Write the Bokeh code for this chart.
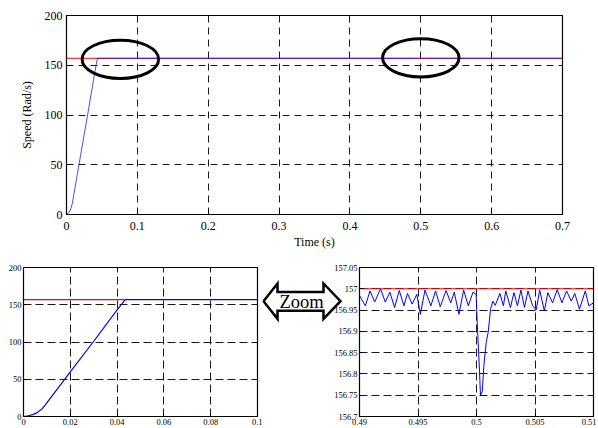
from bokeh.plotting import figure
from bokeh.layouts import column, row
from bokeh.models import FixedTicker, Range1d
from bokeh.embed import file_html
from bokeh.resources import INLINE

# ---------------- data ----------------
start_t = [0.0, 0.002, 0.004, 0.006, 0.008, 0.0093, 0.02, 0.03, 0.04, 0.0435]
start_v = [0.0, 1.0, 2.5, 5.5, 10.5, 15.7, 60.0, 101.0, 143.0, 157.0]

steady_t = [0.05, 0.1, 0.3, 0.4899]
steady_v = [156.98, 156.98, 156.98, 156.98]

zoom_t = [0.49, 0.4905, 0.4909, 0.4913, 0.4918, 0.4922, 0.4926, 0.4930, 0.4934,
          0.4938, 0.4941, 0.4945, 0.4949, 0.4952, 0.4956, 0.4961, 0.4965, 0.4969,
          0.4974, 0.4978, 0.4981, 0.4985, 0.4989, 0.4993, 0.4997, 0.49997,
          0.50006, 0.50026, 0.50034, 0.50049, 0.50063, 0.50083, 0.5010, 0.5012,
          0.5014, 0.5016, 0.5020, 0.5023, 0.5025, 0.5029, 0.5032, 0.5035, 0.5038,
          0.5041, 0.5044, 0.5048, 0.5051, 0.5054, 0.5058, 0.5061, 0.5065, 0.5069,
          0.5073, 0.5077, 0.5081, 0.5084, 0.5088, 0.5093, 0.5096, 0.51]
zoom_v = [156.984, 156.960, 156.995, 156.969, 157.000, 156.969, 156.992, 156.956,
          156.996, 156.960, 156.989, 156.964, 156.987, 156.940, 156.997, 156.960,
          156.995, 156.958, 156.996, 156.967, 156.992, 156.940, 156.997, 156.960,
          156.992, 156.987, 156.921, 156.805, 156.750, 156.758, 156.820, 156.874,
          156.898, 156.952, 156.971, 156.961, 156.989, 156.960, 156.995, 156.956,
          156.991, 156.960, 156.997, 156.956, 156.995, 156.960, 156.950, 156.997,
          156.948, 156.991, 156.967, 156.998, 156.967, 156.995, 156.971, 156.989,
          156.952, 156.995, 156.960, 156.967]

tail_t = [0.5101, 0.6, 0.7]
tail_v = [156.98, 156.98, 156.98]

ref_t = [0.0, 0.7]
ref_v = [157.0, 157.0]
bl_ref_t = [0.0, 0.0435]
bl_ref_v = [157.0, 157.0]
br_ref_t = [0.49, 0.51]
br_ref_v = [157.0, 157.0]

top_xticks = [0.0, 0.1, 0.2, 0.3, 0.4, 0.5, 0.6, 0.7]
top_xlabels = ["0", "0.1", "0.2", "0.3", "0.4", "0.5", "0.6", "0.7"]
top_yticks = [0, 50, 100, 150, 200]
top_ylabels = ["0", "50", "100", "150", "200"]
bl_xticks = [0.0, 0.02, 0.04, 0.06, 0.08, 0.1]
bl_xlabels = ["0", "0.02", "0.04", "0.06", "0.08", "0.1"]
bl_yticks = [0, 50, 100, 150, 200]
bl_ylabels = ["0", "50", "100", "150", "200"]
br_xticks = [0.49, 0.495, 0.5, 0.505, 0.51]
br_xlabels = ["0.49", "0.495", "0.5", "0.505", "0.51"]
br_yticks = [156.7, 156.75, 156.8, 156.85, 156.9, 156.95, 157.0, 157.05]
br_ylabels = ["156.7", "156.75", "156.8", "156.85", "156.9", "156.95", "157", "157.05"]

# highlight ellipses in the top chart (data units)
ell_x = [0.076, 0.5]
ell_y = [156.0, 157.5]
ell_w = [0.108, 0.108]
ell_h = [38.5, 38.5]

# "Zoom" double arrow outline (pixels inside its own small panel)
arrow_x = [1, 15, 15, 61, 61, 78, 61, 61, 15, 15]
arrow_y = [40, 19, 29, 29, 19, 40, 61, 51.5, 51.5, 61]
zoom_label_x = [39]
zoom_label_y = [40.5]
zoom_label = ["Zoom"]

# full series
top_t = start_t + steady_t + zoom_t + tail_t
top_v = start_v + steady_v + zoom_v + tail_v
bl_t = start_t + steady_t[:2]
bl_v = start_v + steady_v[:2]

SERIF = "Liberation Serif"


def style(p, xt, xl, yt, yl, fs, dash):
    p.xaxis.ticker = FixedTicker(ticks=xt)
    p.yaxis.ticker = FixedTicker(ticks=yt)
    p.xaxis.major_label_overrides = dict(zip(xt, xl))
    p.yaxis.major_label_overrides = dict(zip(yt, yl))
    for ax in (p.xaxis[0], p.yaxis[0]):
        ax.major_label_text_font = SERIF
        ax.major_label_text_font_size = fs
        ax.major_label_text_color = "black"
        ax.major_tick_in = 4
        ax.major_tick_out = 0
        ax.minor_tick_line_color = None
        ax.axis_line_color = "black"
        ax.major_tick_line_color = "black"
        ax.axis_label_text_font = SERIF
        ax.axis_label_text_font_style = "normal"
        ax.axis_label_text_color = "black"
    for g in (p.xgrid[0], p.ygrid[0]):
        g.grid_line_color = "black"
        g.grid_line_dash = dash
        g.grid_line_width = 1
        g.grid_line_alpha = 0.9
    p.outline_line_color = "black"
    p.outline_line_width = 1.2
    p.background_fill_color = "white"
    p.border_fill_color = "white"


# ---------------- top chart ----------------
top = figure(width=590, height=251, x_range=Range1d(0, 0.7), y_range=Range1d(0, 200),
             output_backend="svg", toolbar_location=None,
             min_border_left=66, min_border_right=28, min_border_top=15, min_border_bottom=36)
style(top, top_xticks, top_xlabels, top_yticks, top_ylabels, "12px", "7 5")
top.xaxis.axis_label = "Time (s)"
top.yaxis.axis_label = "Speed (Rad/s)"
top.xaxis.axis_label_text_font_size = "12px"
top.yaxis.axis_label_text_font_size = "12px"
top.xaxis.major_label_standoff = 7
top.xaxis.axis_label_standoff = 2
top.yaxis.major_label_standoff = 4
top.yaxis.axis_label_standoff = 8
top.line(ref_t, ref_v, line_color="#ff0000", line_width=1)
top.line(top_t, top_v, line_color="#0000ff", line_width=1, line_alpha=0.7)
top.ellipse(x=ell_x, y=ell_y, width=ell_w, height=ell_h, fill_color=None,
            line_color="black", line_width=3)

# ---------------- bottom-left chart ----------------
bl = figure(width=262, height=177, x_range=Range1d(0, 0.1), y_range=Range1d(0, 200),
            output_backend="svg", toolbar_location=None,
            min_border_left=23, min_border_right=5, min_border_top=16, min_border_bottom=12)
style(bl, bl_xticks, bl_xlabels, bl_yticks, bl_ylabels, "8.5px", "8 4")
bl.xaxis.major_label_standoff = 2
bl.yaxis.major_label_standoff = 2
bl.line(bl_t, bl_v, line_color="#0000ff", line_width=1.2)
bl.line(bl_ref_t, bl_ref_v, line_color="#ff0000", line_width=1.2)

# ---------------- "Zoom" arrow panel ----------------
mid = figure(width=80, height=177, x_range=Range1d(0, 80), y_range=Range1d(177, 0),
             output_backend="svg", toolbar_location=None,
             x_axis_location=None, y_axis_location=None,
             min_border_left=0, min_border_right=0, min_border_top=0, min_border_bottom=0)
mid.grid.visible = False
mid.outline_line_color = None
mid.background_fill_color = "white"
mid.border_fill_color = "white"
mid.patch(arrow_x, arrow_y, fill_color="white", line_color="black", line_width=2.5,
          line_join="miter")
mid.text(x=zoom_label_x, y=zoom_label_y, text=zoom_label, text_align="center",
         text_baseline="middle", text_font="Liberation Sans", text_font_size="18.5px",
         text_color="black")

# ---------------- bottom-right chart ----------------
br = figure(width=296, height=177, x_range=Range1d(0.49, 0.51),
            y_range=Range1d(156.7, 157.05),
            output_backend="svg", toolbar_location=None,
            min_border_left=59, min_border_right=3, min_border_top=16, min_border_bottom=12)
style(br, br_xticks, br_xlabels, br_yticks, br_ylabels, "8.5px", "8 4")
br.border_fill_alpha = 0.0
br.margin = (0, 0, 0, -42)
br.xaxis.major_label_standoff = 2
br.yaxis.major_label_standoff = 2
br.line(br_ref_t, br_ref_v, line_color="#ff0000", line_width=1)
br.line(zoom_t, zoom_v, line_color="#0000ff", line_width=1)

layout = column(top, row(bl, mid, br))
open("out.html", "w").write(file_html(layout, INLINE))
